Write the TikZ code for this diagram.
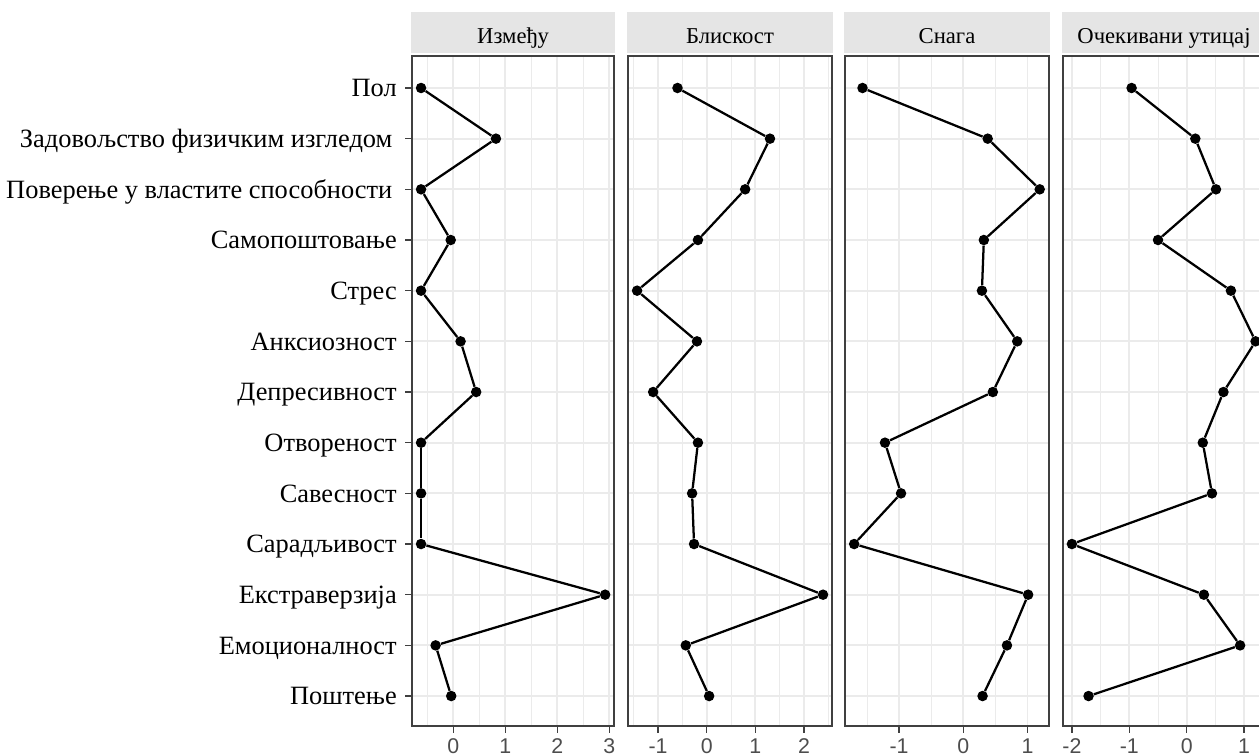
\documentclass[tikz,border=0pt]{standalone}
\usepackage{fontspec}
\setmainfont{Liberation Serif}
\newfontfamily\tickfont{Liberation Sans}
\usetikzlibrary{positioning}

\definecolor{stripgray}{RGB}{229,229,229}
\definecolor{gridgray}{RGB}{235,235,235}
\definecolor{framegray}{RGB}{64,64,64}
\definecolor{ticktext}{RGB}{77,77,77}

\begin{document}
\begin{tikzpicture}[x=0.75pt, y=-0.75pt,
    stripbox/.style={fill=stripgray},
    frame/.style={draw=framegray, line width=1.1pt},
    majorgrid/.style={draw=gridgray, line width=1.4pt},
    minorgrid/.style={draw=gridgray, line width=0.7pt},
    tickmark/.style={draw=framegray, line width=1.1pt},
    dot/.style={circle, fill=black, inner sep=0pt, minimum size=7.9pt},
    link/.style={draw=black, line width=1.7pt},
    rowlabel/.style={anchor=base east, inner sep=0pt, font=\fontsize{19.8}{22}\selectfont},
    striplabel/.style={anchor=base, inner sep=0pt, font=\fontsize{17}{20}\selectfont},
    ticklabel/.style={anchor=base, inner sep=0pt, text=ticktext, font=\tickfont\fontsize{16}{18}\selectfont}]

    \useasboundingbox (0,0) rectangle (1259,755);

    % Row labels and y ticks
    \foreach \name [count=\i] in {Пол\ , Задовољство физичким изгледом\,, Поверење у властите способности\,,
        Самопоштовање, Стрес\ , Анксиозност\ , Депресивност, Отвореност, Савесност, Сарадљивост,
        Екстраверзија, Емоционалност, Поштење} {
        \pgfmathsetmacro\py{88+(\i-1)*50.67}
        \node (lab\i) [rowlabel] at (397,\py+8.8) {\name};
        \draw[tickmark] (405,\py) -- (412,\py);
    }

    % Panels: number/left/right/zero/unit/title/majors/minors/values
    \foreach \k/\lft/\rgt/\zero/\unit/\title/\majors/\minors/\vals in {
        1/412/614/453.3/52.0/Између/{0,1,2,3}/{-0.5,0.5,1.5,2.5}/{-0.62,0.82,-0.62,-0.05,-0.62,0.14,0.44,-0.62,-0.62,-0.62,2.92,-0.34,-0.04},
        2/628/832/706.7/48.67/Блискост/{-1,0,1,2}/{-1.5,-0.5,0.5,1.5,2.5}/{-0.6,1.3,0.79,-0.18,-1.43,-0.2,-1.1,-0.18,-0.3,-0.26,2.39,-0.43,0.05},
        3/845/1049/963.3/64.2/Снага/{-1,0,1}/{-1.5,-0.5,0.5}/{-1.57,0.38,1.19,0.32,0.29,0.84,0.46,-1.22,-0.97,-1.7,1.01,0.68,0.3},
        4/1063/1265/1186.7/57.4/Очекивани утицај/{-2,-1,0,1}/{-1.5,-0.5,0.5}/{-0.96,0.15,0.51,-0.5,0.77,1.2,0.64,0.28,0.44,-2.0,0.3,0.93,-1.71}} {
        % strip
        \fill[stripbox] (\lft-1,12) rectangle (\rgt+1,53);
        \node (title\k) [striplabel] at ({(\lft+\rgt)/2},43.3) {\title};
        % grid
        \foreach \m in \minors
            \draw[minorgrid] ({\zero+(\m)*\unit},56) -- ({\zero+(\m)*\unit},726);
        \foreach \m in \majors
            \draw[majorgrid] ({\zero+(\m)*\unit},56) -- ({\zero+(\m)*\unit},726);
        \foreach \i in {1,...,13}
            \draw[majorgrid] (\lft,{88+(\i-1)*50.67}) -- (\rgt,{88+(\i-1)*50.67});
        \draw[frame] (\lft,56) rectangle (\rgt,726);
        % x axis
        \foreach \m in \majors {
            \draw[tickmark] ({\zero+(\m)*\unit},726) -- ({\zero+(\m)*\unit},733);
            \node [ticklabel] at ({\zero+(\m)*\unit},753) {\m};
        }
        % points
        \foreach \v [count=\i] in \vals
            \node (d\k-\i) [dot] at ({\zero+(\v)*\unit},{88+(\i-1)*50.67}) {};
        \foreach \i in {1,...,12} {
            \pgfmathtruncatemacro\j{\i+1}
            \draw[link] (d\k-\i) -- (d\k-\j);
        }
    }

\end{tikzpicture}
\end{document}
